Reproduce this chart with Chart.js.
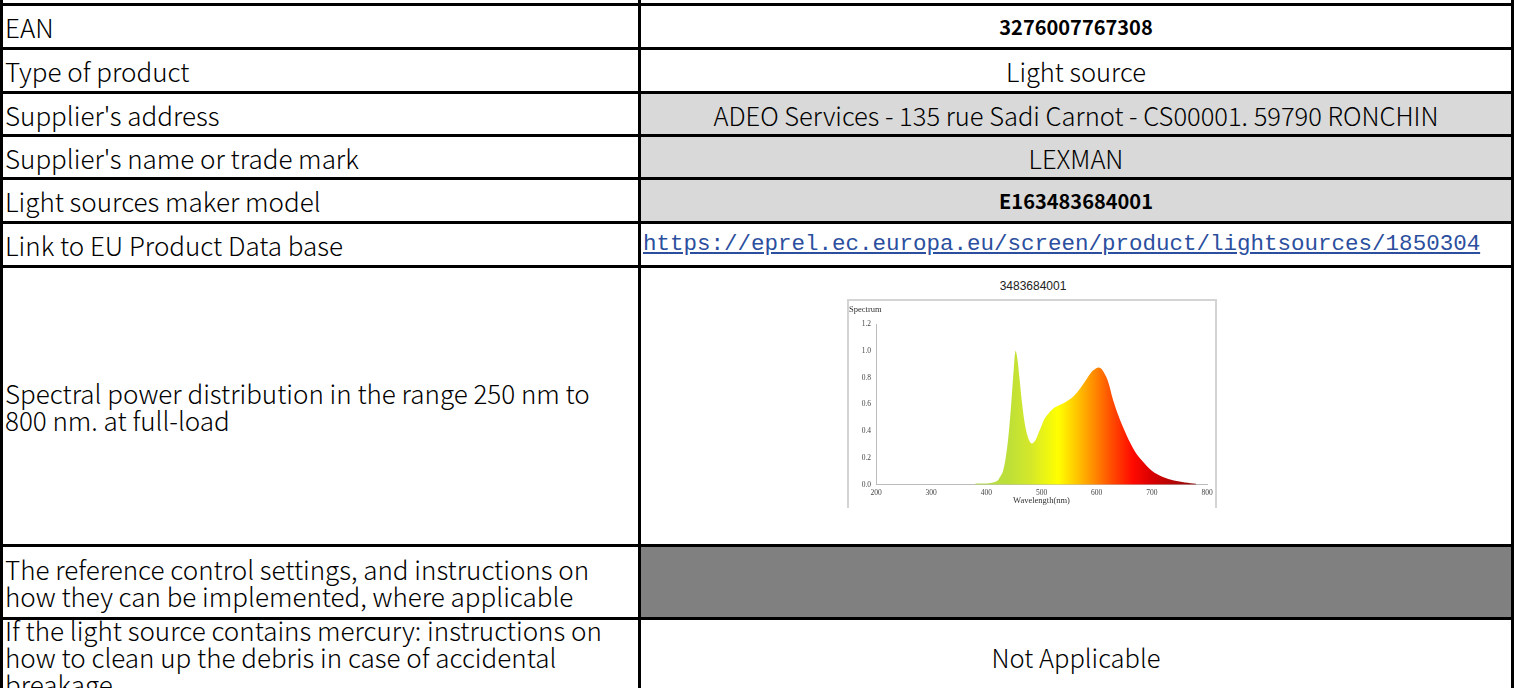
<!DOCTYPE html>
<html>
<head>
<meta charset="utf-8">
<script src="https://cdn.jsdelivr.net/npm/chart.js@4.4.1/dist/chart.umd.min.js"></script>
<style>
  html, body { margin: 0; padding: 0; background: #fff; width: 1515px; height: 688px; overflow: hidden; }
  body { position: relative; font-family: "Noto Sans CJK SC", "Noto Sans", sans-serif; color: #000; }
  .cell { position: absolute; display: flex; align-items: center; overflow: hidden; font-size: 26px; line-height: 27px; font-weight: 300; box-sizing: border-box; }
  .lc { left: 3px; width: 635px; padding-left: 2px; padding-right: 22px; }
  .rc { left: 641px; width: 870px; justify-content: center; text-align: center; font-size: 25.5px; }
  .gray { background: #d9d9d9; }
  .dark { background: #808080; }
  .bold { font-weight: bold; font-size: 20px; }
  .hl { position: absolute; left: 0; width: 1514px; height: 3px; background: #000; }
  .vl { position: absolute; top: 0; width: 3px; height: 688px; background: #000; }
  .url { font-family: "Liberation Mono", monospace; font-size: 22.5px; font-weight: normal; color: #2b4f9e; text-decoration: underline; justify-content: flex-start; padding-left: 2px; }
  #chartTitle { position: absolute; left: 847px; width: 372px; top: 279px; text-align: center; font-family: "Liberation Sans", Arial, sans-serif; font-size: 12px; color: #222; }
  #chartBox { position: absolute; left: 847px; top: 299px; width: 370px; height: 209px; border-left: 2px solid #d4d4d4; border-top: 2px solid #d4d4d4; border-right: 2px solid #d4d4d4; box-sizing: border-box; background: #fff; }
</style>
</head>
<body>
<script>
// ---- data ----
const wavelengths = [380, 390, 400, 410, 420, 425, 430, 435, 440, 445, 450, 453, 456, 460, 465, 470, 475, 480, 484, 490, 495, 500, 505, 510, 520, 530, 540, 550, 560, 570, 580, 590, 600, 605, 610, 620, 630, 640, 650, 660, 670, 680, 690, 700, 710, 720, 730, 740, 750, 760, 770, 780];
const spectrum    = [0.01, 0.01, 0.01, 0.015, 0.03, 0.06, 0.10, 0.20, 0.36, 0.60, 0.88, 1.00, 0.95, 0.80, 0.60, 0.45, 0.36, 0.315, 0.31, 0.34, 0.39, 0.44, 0.49, 0.52, 0.565, 0.59, 0.61, 0.635, 0.67, 0.72, 0.78, 0.84, 0.872, 0.875, 0.86, 0.78, 0.63, 0.51, 0.41, 0.32, 0.245, 0.19, 0.145, 0.105, 0.078, 0.058, 0.043, 0.032, 0.024, 0.017, 0.012, 0.008];
const xTicks = [200, 300, 400, 500, 600, 700, 800];
const yTicks = [0.0, 0.2, 0.4, 0.6, 0.8, 1.0, 1.2];
const chartName = "3483684001";

const rowLabels = [
  "EAN",
  "Type of product",
  "Supplier's address",
  "Supplier's name or trade mark",
  "Light sources maker model",
  "Link to EU Product Data base",
  "Spectral power distribution in the range 250 nm to 800 nm. at full-load",
  "The reference control settings, and instructions on how they can be implemented, where applicable",
  "If the light source contains mercury: instructions on how to clean up the debris in case of accidental breakage"
];
const rowValues = [
  "3276007767308",
  "Light source",
  "ADEO Services - 135 rue Sadi Carnot - CS00001. 59790 RONCHIN",
  "LEXMAN",
  "E163483684001",
  "https://eprel.ec.europa.eu/screen/product/lightsources/1850304",
  "",
  "",
  "Not Applicable"
];

// colour stops along the wavelength axis (style)
const gradStops = [[380,'#b3dc4e'],[440,'#bddf38'],[480,'#d4e82a'],[530,'#ffff00'],[565,'#ffc400'],[595,'#ff8c00'],[625,'#ff5000'],[665,'#ff0a00'],[700,'#d80000'],[780,'#8e0c0c']];

// ---- table layout ----
const lineTops = [3, 47, 91, 134, 177, 221, 265, 544, 617];
const rowBottoms = [47, 91, 134, 177, 221, 265, 544, 617, 692];
const rowClasses = ['', '', 'gray', 'gray', 'gray', '', '', 'dark', ''];
const boldRows = [0, 4];

lineTops.forEach(t => {
  const d = document.createElement('div'); d.className = 'hl'; d.style.top = t + 'px'; document.body.appendChild(d);
});
rowLabels.forEach((lab, i) => {
  const top = lineTops[i] + 3, h = rowBottoms[i] - top;
  const l = document.createElement('div');
  l.className = 'cell lc'; l.style.top = top + 'px'; l.style.height = h + 'px';
  l.textContent = lab; document.body.appendChild(l);
  const r = document.createElement('div');
  r.className = 'cell rc ' + rowClasses[i] + (boldRows.includes(i) ? ' bold' : '') + (i === 5 ? ' url' : '');
  r.style.top = top + 'px'; r.style.height = h + 'px';
  r.textContent = rowValues[i]; document.body.appendChild(r);
});
[0, 638, 1511].forEach(x => {
  const d = document.createElement('div'); d.className = 'vl'; d.style.left = x + 'px'; document.body.appendChild(d);
});
</script>
<div id="chartTitle"></div>
<div id="chartBox"><canvas id="c" width="366" height="207"></canvas></div>
<script>
document.getElementById('chartTitle').textContent = chartName;
const serif = '"Liberation Serif", "DejaVu Serif", serif';
function gradient(ctx) {
  const chart = ctx.chart; const area = chart.chartArea; const xs = chart.scales.x;
  if (!area || !xs) return '#ff8000';
  const x0 = xs.getPixelForValue(gradStops[0][0]);
  const x1 = xs.getPixelForValue(gradStops[gradStops.length - 1][0]);
  const g = chart.ctx.createLinearGradient(x0, 0, x1, 0);
  gradStops.forEach(([w, c]) => g.addColorStop((w - gradStops[0][0]) / (gradStops[gradStops.length - 1][0] - gradStops[0][0]), c));
  return g;
}
new Chart(document.getElementById('c'), {
  type: 'line',
  data: {
    datasets: [{
      data: wavelengths.map((w, i) => ({ x: w, y: spectrum[i] })),
      fill: 'origin',
      backgroundColor: gradient,
      borderWidth: 0,
      borderColor: 'rgba(0,0,0,0)',
      pointRadius: 0,
      tension: 0.35
    }]
  },
  options: {
    responsive: false,
    animation: false,
    layout: { padding: { left: 0, right: 8, top: 0, bottom: 0 } },
    plugins: {
      legend: { display: false },
      tooltip: { enabled: false },
      title: { display: true, text: 'Spectrum', align: 'start', color: '#333', font: { family: serif, size: 8.5, weight: 'normal' }, padding: { top: 4, bottom: 9 } }
    },
    scales: {
      x: {
        type: 'linear', min: 200, max: 800,
        afterBuildTicks: s => { s.ticks = xTicks.map(v => ({ value: v })); },
        grid: { display: false, drawTicks: true, tickLength: 3, tickColor: '#bbb' },
        border: { color: '#bbb' },
        ticks: { color: '#444', font: { family: serif, size: 7.5 }, padding: 1, maxRotation: 0 },
        title: { display: true, text: 'Wavelength(nm)', color: '#333', font: { family: serif, size: 8.5 }, padding: { top: -3, bottom: 2 } }
      },
      y: {
        min: 0, max: 1.2,
        afterBuildTicks: s => { s.ticks = yTicks.map(v => ({ value: v })); },
        afterFit: s => { s.width = 27; },
        grid: { display: false, drawTicks: true, tickLength: 3, tickColor: '#bbb' },
        border: { color: '#bbb' },
        ticks: { color: '#444', font: { family: serif, size: 7.5 }, padding: 2, callback: v => Number(v).toFixed(1) }
      }
    }
  }
});
</script>
</body>
</html>
